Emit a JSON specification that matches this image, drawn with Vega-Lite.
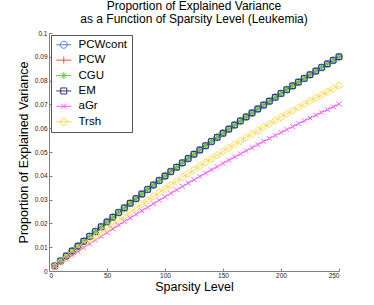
{
  "$schema": "https://vega.github.io/schema/vega-lite/v6.json",
  "width": 290,
  "height": 238,
  "autosize": "none",
  "padding": {"left": 49, "top": 33, "right": 35, "bottom": 34},
  "background": "white",
  "title": {
    "text": ["Proportion of Explained Variance", "as a Function of Sparsity Level (Leukemia)"],
    "font": "Liberation Sans",
    "fontSize": 12,
    "fontWeight": "normal",
    "color": "#000",
    "frame": "group",
    "anchor": "middle",
    "lineHeight": 13,
    "offset": 4
  },
  "config": {
    "view": {"stroke": null},
    "axis": {
      "grid": false,
      "labelFont": "Liberation Sans",
      "labelFontSize": 6.5,
      "labelColor": "#222",
      "domainColor": "#808080",
      "tickColor": "#808080",
      "tickSize": -3,
      "titleFont": "Liberation Sans",
      "titleFontSize": 12.5,
      "titleFontWeight": "normal",
      "titleColor": "#000"
    },
    "legend": {
      "orient": "top-left",
      "offset": 1.5,
      "padding": 4,
      "strokeColor": "#555",
      "fillColor": "white",
      "symbolSize": 100,
      "symbolStrokeWidth": 1,
      "symbolOpacity": 1,
      "symbolOffset": 3,
      "labelFont": "Liberation Sans",
      "labelFontSize": 11.5,
      "labelColor": "#000",
      "labelOffset": 9,
      "rowPadding": 2.4,
      "titlePadding": 0
    }
  },
  "data": {
    "values": [
      {"x": 5, "PCWcont": 0.00212, "PCW": 0.00212, "CGU": 0.00212, "EM": 0.00212, "aGr": 0.00166, "Trsh": 0.00184},
      {"x": 10, "PCWcont": 0.00422, "PCW": 0.00422, "CGU": 0.00422, "EM": 0.00422, "aGr": 0.00331, "Trsh": 0.00367},
      {"x": 15, "PCWcont": 0.00632, "PCW": 0.00632, "CGU": 0.00632, "EM": 0.00632, "aGr": 0.00495, "Trsh": 0.00548},
      {"x": 20, "PCWcont": 0.0084, "PCW": 0.0084, "CGU": 0.0084, "EM": 0.0084, "aGr": 0.00658, "Trsh": 0.00729},
      {"x": 25, "PCWcont": 0.01046, "PCW": 0.01046, "CGU": 0.01046, "EM": 0.01046, "aGr": 0.00819, "Trsh": 0.00908},
      {"x": 30, "PCWcont": 0.01252, "PCW": 0.01252, "CGU": 0.01252, "EM": 0.01252, "aGr": 0.0098, "Trsh": 0.01086},
      {"x": 35, "PCWcont": 0.01456, "PCW": 0.01456, "CGU": 0.01456, "EM": 0.01456, "aGr": 0.0114, "Trsh": 0.01263},
      {"x": 40, "PCWcont": 0.01658, "PCW": 0.01658, "CGU": 0.01658, "EM": 0.01658, "aGr": 0.01298, "Trsh": 0.01439},
      {"x": 45, "PCWcont": 0.0186, "PCW": 0.0186, "CGU": 0.0186, "EM": 0.0186, "aGr": 0.01456, "Trsh": 0.01614},
      {"x": 50, "PCWcont": 0.0206, "PCW": 0.0206, "CGU": 0.0206, "EM": 0.0206, "aGr": 0.01613, "Trsh": 0.01788},
      {"x": 55, "PCWcont": 0.02259, "PCW": 0.02259, "CGU": 0.02259, "EM": 0.02259, "aGr": 0.01768, "Trsh": 0.0196},
      {"x": 60, "PCWcont": 0.02456, "PCW": 0.02456, "CGU": 0.02456, "EM": 0.02456, "aGr": 0.01922, "Trsh": 0.02132},
      {"x": 65, "PCWcont": 0.02653, "PCW": 0.02653, "CGU": 0.02653, "EM": 0.02653, "aGr": 0.02076, "Trsh": 0.02302},
      {"x": 70, "PCWcont": 0.02848, "PCW": 0.02848, "CGU": 0.02848, "EM": 0.02848, "aGr": 0.02228, "Trsh": 0.02471},
      {"x": 75, "PCWcont": 0.03041, "PCW": 0.03041, "CGU": 0.03041, "EM": 0.03041, "aGr": 0.02379, "Trsh": 0.02639},
      {"x": 80, "PCWcont": 0.03234, "PCW": 0.03234, "CGU": 0.03234, "EM": 0.03234, "aGr": 0.0253, "Trsh": 0.02805},
      {"x": 85, "PCWcont": 0.03425, "PCW": 0.03425, "CGU": 0.03425, "EM": 0.03425, "aGr": 0.02679, "Trsh": 0.02971},
      {"x": 90, "PCWcont": 0.03614, "PCW": 0.03614, "CGU": 0.03614, "EM": 0.03614, "aGr": 0.02827, "Trsh": 0.03136},
      {"x": 95, "PCWcont": 0.03803, "PCW": 0.03803, "CGU": 0.03803, "EM": 0.03803, "aGr": 0.02974, "Trsh": 0.03299},
      {"x": 100, "PCWcont": 0.0399, "PCW": 0.0399, "CGU": 0.0399, "EM": 0.0399, "aGr": 0.0312, "Trsh": 0.03461},
      {"x": 105, "PCWcont": 0.04176, "PCW": 0.04176, "CGU": 0.04176, "EM": 0.04176, "aGr": 0.03265, "Trsh": 0.03622},
      {"x": 110, "PCWcont": 0.0436, "PCW": 0.0436, "CGU": 0.0436, "EM": 0.0436, "aGr": 0.03409, "Trsh": 0.03782},
      {"x": 115, "PCWcont": 0.04544, "PCW": 0.04544, "CGU": 0.04544, "EM": 0.04544, "aGr": 0.03552, "Trsh": 0.03941},
      {"x": 120, "PCWcont": 0.04726, "PCW": 0.04726, "CGU": 0.04726, "EM": 0.04726, "aGr": 0.03694, "Trsh": 0.04098},
      {"x": 125, "PCWcont": 0.04906, "PCW": 0.04906, "CGU": 0.04906, "EM": 0.04906, "aGr": 0.03834, "Trsh": 0.04255},
      {"x": 130, "PCWcont": 0.05086, "PCW": 0.05086, "CGU": 0.05086, "EM": 0.05086, "aGr": 0.03974, "Trsh": 0.0441},
      {"x": 135, "PCWcont": 0.05264, "PCW": 0.05264, "CGU": 0.05264, "EM": 0.05264, "aGr": 0.04113, "Trsh": 0.04564},
      {"x": 140, "PCWcont": 0.0544, "PCW": 0.0544, "CGU": 0.0544, "EM": 0.0544, "aGr": 0.0425, "Trsh": 0.04717},
      {"x": 145, "PCWcont": 0.05616, "PCW": 0.05616, "CGU": 0.05616, "EM": 0.05616, "aGr": 0.04387, "Trsh": 0.04869},
      {"x": 150, "PCWcont": 0.0579, "PCW": 0.0579, "CGU": 0.0579, "EM": 0.0579, "aGr": 0.04523, "Trsh": 0.0502},
      {"x": 155, "PCWcont": 0.05963, "PCW": 0.05963, "CGU": 0.05963, "EM": 0.05963, "aGr": 0.04657, "Trsh": 0.05169},
      {"x": 160, "PCWcont": 0.06134, "PCW": 0.06134, "CGU": 0.06134, "EM": 0.06134, "aGr": 0.0479, "Trsh": 0.05318},
      {"x": 165, "PCWcont": 0.06305, "PCW": 0.06305, "CGU": 0.06305, "EM": 0.06305, "aGr": 0.04923, "Trsh": 0.05465},
      {"x": 170, "PCWcont": 0.06474, "PCW": 0.06474, "CGU": 0.06474, "EM": 0.06474, "aGr": 0.05054, "Trsh": 0.05611},
      {"x": 175, "PCWcont": 0.06641, "PCW": 0.06641, "CGU": 0.06641, "EM": 0.06641, "aGr": 0.05184, "Trsh": 0.05756},
      {"x": 180, "PCWcont": 0.06808, "PCW": 0.06808, "CGU": 0.06808, "EM": 0.06808, "aGr": 0.05314, "Trsh": 0.059},
      {"x": 185, "PCWcont": 0.06973, "PCW": 0.06973, "CGU": 0.06973, "EM": 0.06973, "aGr": 0.05442, "Trsh": 0.06043},
      {"x": 190, "PCWcont": 0.07136, "PCW": 0.07136, "CGU": 0.07136, "EM": 0.07136, "aGr": 0.05569, "Trsh": 0.06184},
      {"x": 195, "PCWcont": 0.07299, "PCW": 0.07299, "CGU": 0.07299, "EM": 0.07299, "aGr": 0.05695, "Trsh": 0.06325},
      {"x": 200, "PCWcont": 0.0746, "PCW": 0.0746, "CGU": 0.0746, "EM": 0.0746, "aGr": 0.0582, "Trsh": 0.06464},
      {"x": 205, "PCWcont": 0.0762, "PCW": 0.0762, "CGU": 0.0762, "EM": 0.0762, "aGr": 0.05944, "Trsh": 0.06602},
      {"x": 210, "PCWcont": 0.07778, "PCW": 0.07778, "CGU": 0.07778, "EM": 0.07778, "aGr": 0.06067, "Trsh": 0.06739},
      {"x": 215, "PCWcont": 0.07936, "PCW": 0.07936, "CGU": 0.07936, "EM": 0.07936, "aGr": 0.06189, "Trsh": 0.06875},
      {"x": 220, "PCWcont": 0.08092, "PCW": 0.08092, "CGU": 0.08092, "EM": 0.08092, "aGr": 0.0631, "Trsh": 0.0701},
      {"x": 225, "PCWcont": 0.08246, "PCW": 0.08246, "CGU": 0.08246, "EM": 0.08246, "aGr": 0.06429, "Trsh": 0.07143},
      {"x": 230, "PCWcont": 0.084, "PCW": 0.084, "CGU": 0.084, "EM": 0.084, "aGr": 0.06548, "Trsh": 0.07276},
      {"x": 235, "PCWcont": 0.08552, "PCW": 0.08552, "CGU": 0.08552, "EM": 0.08552, "aGr": 0.06666, "Trsh": 0.07407},
      {"x": 240, "PCWcont": 0.08702, "PCW": 0.08702, "CGU": 0.08702, "EM": 0.08702, "aGr": 0.06782, "Trsh": 0.07537},
      {"x": 245, "PCWcont": 0.08852, "PCW": 0.08852, "CGU": 0.08852, "EM": 0.08852, "aGr": 0.06898, "Trsh": 0.07666},
      {"x": 250, "PCWcont": 0.09, "PCW": 0.09, "CGU": 0.09, "EM": 0.09, "aGr": 0.07013, "Trsh": 0.07794}
    ]
  },
  "transform": [
    {"fold": ["PCWcont", "PCW", "CGU", "EM", "aGr", "Trsh"], "as": ["series", "value"]}
  ],
  "encoding": {
    "x": {
      "field": "x",
      "type": "quantitative",
      "scale": {"domain": [0, 250], "nice": false, "zero": false},
      "axis": {"values": [0, 50, 100, 150, 200, 250], "title": "Sparsity Level", "labelPadding": 4, "titlePadding": 2}
    },
    "y": {
      "field": "value",
      "type": "quantitative",
      "scale": {"domain": [0, 0.1], "nice": false},
      "axis": {"values": [0, 0.01, 0.02, 0.03, 0.04, 0.05, 0.06, 0.07, 0.08, 0.09, 0.1], "format": "~g", "title": "Proportion of Explained Variance", "labelPadding": 5, "titlePadding": 4}
    }
  },
  "layer": [
    {
      "mark": {"type": "line", "strokeWidth": 1},
      "encoding": {
        "color": {
          "field": "series",
          "type": "nominal",
          "scale": {"domain": ["PCWcont", "PCW", "CGU", "EM", "aGr", "Trsh"], "range": ["#5f74f0", "#ff4a4a", "#5ad63a", "#2f3a7a", "#ff5cff", "#ffd84a"]},
          "legend": null
        },
        "detail": {"field": "series"}
      }
    },
    {
      "mark": {"type": "point", "filled": false, "strokeWidth": 1, "opacity": 1},
      "encoding": {
        "color": {
          "field": "series",
          "type": "nominal",
          "scale": {"domain": ["PCWcont", "PCW", "CGU", "EM", "aGr", "Trsh"], "range": ["#5f74f0", "#ff4a4a", "#5ad63a", "#2f3a7a", "#ff5cff", "#ffd84a"]},
          "legend": null
        },
        "shape": {
          "field": "series",
          "type": "nominal",
          "scale": {"domain": ["PCWcont", "PCW", "CGU", "EM", "aGr", "Trsh"], "range": ["circle", "M-1,0H1M0,-1V1", "M-1,0H1M0,-1V1M-0.7,-0.7L0.7,0.7M-0.7,0.7L0.7,-0.7", "M-0.8,-0.8H0.8V0.8H-0.8Z", "M-0.7,-0.7L0.7,0.7M-0.7,0.7L0.7,-0.7", "M0,-1.1L1.1,0L0,1.1L-1.1,0Z"]},
          "legend": null
        },
        "size": {
          "field": "series",
          "type": "nominal",
          "scale": {"domain": ["PCWcont", "PCW", "CGU", "EM", "aGr", "Trsh"], "range": [48, 45, 45, 45, 40, 45]},
          "legend": null
        }
      }
    },
    {
      "mark": {"type": "point", "filled": false, "opacity": 0},
      "encoding": {
        "color": {
          "field": "series",
          "type": "nominal",
          "scale": {"domain": ["PCWcont", "PCW", "CGU", "EM", "aGr", "Trsh"], "range": ["#5f74f0", "#ff4a4a", "#5ad63a", "#2f3a7a", "#ff5cff", "#ffd84a"]},
          "legend": {"title": null}
        },
        "shape": {
          "field": "series",
          "type": "nominal",
          "scale": {"domain": ["PCWcont", "PCW", "CGU", "EM", "aGr", "Trsh"], "range": [
            "M-1.5,0H1.5M0.7,0A0.7,0.7 0 1,1 -0.7,0A0.7,0.7 0 1,1 0.7,0",
            "M-1.5,0H1.5M0,-0.7V0.7",
            "M-1.5,0H1.5M0,-0.7V0.7M-0.5,-0.5L0.5,0.5M-0.5,0.5L0.5,-0.5",
            "M-1.5,0H1.5M-0.6,-0.6H0.6V0.6H-0.6Z",
            "M-1.5,0H1.5M-0.55,-0.55L0.55,0.55M-0.55,0.55L0.55,-0.55",
            "M-1.5,0H1.5M0,-0.8L0.8,0L0,0.8L-0.8,0Z"
          ]},
          "legend": {"title": null}
        }
      }
    }
  ],
  "resolve": {"scale": {"color": "independent", "shape": "independent", "size": "independent"}}
}
